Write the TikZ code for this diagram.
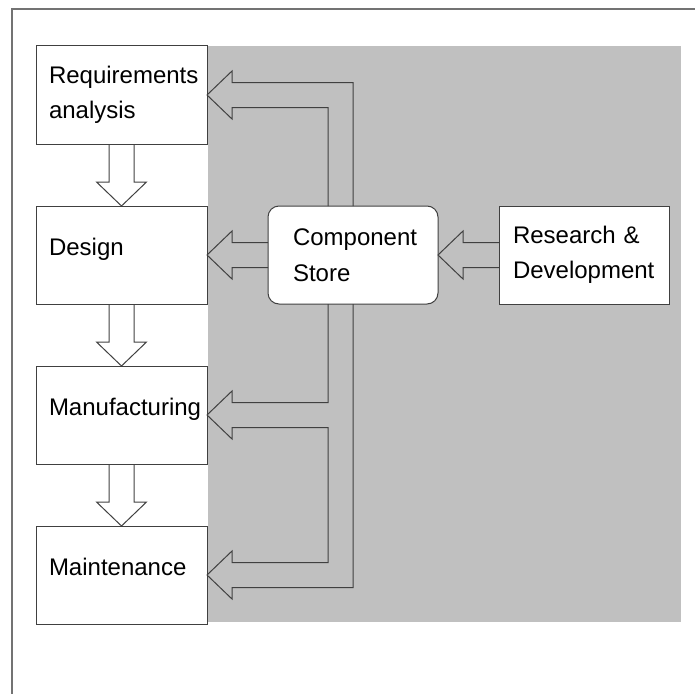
\documentclass[tikz,border=0pt]{standalone}
\usepackage{fontspec}
\setmainfont{Liberation Sans}
\usepackage{tikz}
\usetikzlibrary{calc}
\usetikzlibrary{positioning}
\definecolor{backgray}{RGB}{192,192,192}
\definecolor{linegray}{RGB}{64,64,64}
\newcommand{\blockdown}[2]{\draw[blockarrow] ($(#1.south)+(-12.5,0)$) -- ($(#2.north)+(-12.5,-24)$) -- ($(#2.north)+(-25,-24)$) -- (#2.north) -- ($(#2.north)+(25,-24)$) -- ($(#2.north)+(12.5,-24)$) -- ($(#1.south)+(12.5,0)$);}
\newcommand{\blockleft}[2]{\draw[blockarrow] ($(#1.west)+(0,-12.5)$) -- ($(#2.east)+(25,-12.5)$) -- ($(#2.east)+(25,-24)$) -- (#2.east) -- ($(#2.east)+(25,24)$) -- ($(#2.east)+(25,12.5)$) -- ($(#1.west)+(0,12.5)$);}
\begin{document}
\begin{tikzpicture}[x=1pt,y=-1pt,
    box/.style={draw=linegray, line width=1pt, fill=white, outer sep=0pt,
        minimum width=171pt, minimum height=98pt, inner xsep=13pt,
        text width=145pt, align=left, font=\fontsize{24}{35.5}\selectfont},
    oneline/.style={text depth=16pt},
    blockarrow/.style={draw=linegray, line width=1pt, line join=miter},
    node distance=62pt]
    \useasboundingbox (0,0) rectangle (695,693);
    \draw[black!55, line width=1.2pt] (12,720) -- (12,9) -- (720,9);
    \fill[backgray] (208,46) rectangle (681,622);

    \node[box] (req) at (121.5,95) {Requirements\\analysis};
    \node[box, oneline, below=of req] (design) {Design};
    \node[box, oneline, below=of design] (manu) {Manufacturing};
    \node[box, oneline, below=of manu] (maint) {Maintenance};
    \node[box, rounded corners=11pt, minimum width=170pt, inner xsep=25pt, text width=120pt, right=61pt of design] (store) {Component\\Store};
    \node[box, minimum width=170pt, inner xsep=14pt, text width=142pt, right=61pt of store] (rnd) {Research \&\\Development};

    \blockdown{req}{design}
    \blockdown{design}{manu}
    \blockdown{manu}{maint}
    \blockleft{store}{design}
    \blockleft{rnd}{store}

    \coordinate (inner) at ($(store.south)+(-25,0)$);
    \draw[blockarrow] ($(store.north)+(-25,0)$) |- ($(req.east)+(25,12.5)$) -- ++(0,11.5) -- (req.east) -- ($(req.east)+(25,-24)$) -- ++(0,11.5) -| (store.north);
    \draw[blockarrow] (inner) |- ($(manu.east)+(25,-12.5)$) -- ++(0,-11.5) -- (manu.east) -- ($(manu.east)+(25,24)$) -- ++(0,-11.5) -| ($(inner |- maint.east)+(0,-12.5)$) -- ($(maint.east)+(25,-12.5)$) -- ++(0,-11.5) -- (maint.east) -- ($(maint.east)+(25,24)$) -- ++(0,-11.5) -| (store.south);
\end{tikzpicture}
\end{document}
